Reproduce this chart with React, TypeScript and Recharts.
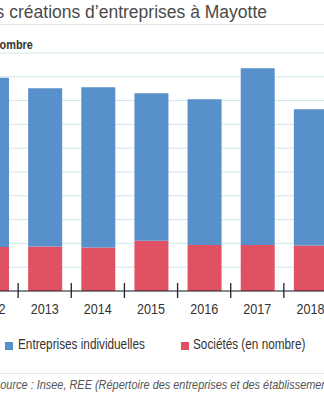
import { Bar, BarChart, CartesianGrid, XAxis, YAxis } from "recharts";

const years = ["2012", "2013", "2014", "2015", "2016", "2017", "2018"];
const societes = [370, 374, 365, 423, 387, 387, 382];
const individuelles = [1422, 1329, 1347, 1238, 1224, 1484, 1145];
const yTicks = [0, 200, 400, 600, 800, 1000, 1200, 1400, 1600, 1800, 2000];

const seriesNames = ["Entreprises individuelles", "Sociétés (en nombre)"];
const BLUE = "#5790cb";
const RED = "#e05263";
const FONT = '"Liberation Sans", Arial, sans-serif';
// no narrow font installed: squeeze the regular one
const SQUEEZE = 0.84;

const data = years.map((year, i) => ({
  year,
  individuelles: individuelles[i],
  societes: societes[i],
}));

const CHART_W = 372;
const BAND = CHART_W / years.length;

function YearTick(props: any) {
  const { x, y, payload } = props;
  const bx = x - BAND / 2;
  return (
    <g>
      <line x1={bx} x2={bx} y1={y - 8} y2={y + 7} stroke="#222" strokeWidth={1.3} />
      <g transform={`translate(${x},${y + 23}) scale(0.9,1)`}>
        <text x={0} y={0} textAnchor="middle" fill="#333" fontSize={14} fontFamily={FONT}>
          {payload.value}
        </text>
      </g>
    </g>
  );
}

const squeezed = (origin: string): React.CSSProperties => ({
  display: "inline-block",
  transform: `scaleX(${SQUEEZE})`,
  transformOrigin: origin,
  whiteSpace: "nowrap",
});

export default function App() {
  return (
    <div
      style={{
        position: "absolute",
        left: 0,
        top: 0,
        width: 324,
        height: 400,
        overflow: "hidden",
        background: "#fff",
        fontFamily: FONT,
      }}
    >
      <div
        style={{
          position: "absolute",
          right: 57,
          top: 2,
          whiteSpace: "nowrap",
          fontSize: 17.5,
          color: "#4a4a4a",
        }}
      >
        Évolution des créations d’entreprises à Mayotte
      </div>
      <div style={{ position: "absolute", left: 0, top: 24, width: 324, height: 1, background: "#e6e6e6" }} />
      <div style={{ position: "absolute", right: 291, top: 37, fontSize: 13, fontWeight: "bold", color: "#333" }}>
        <span style={squeezed("right")}>En nombre</span>
      </div>

      <div style={{ position: "absolute", left: -35, top: 0 }}>
        <BarChart
          width={CHART_W}
          height={320}
          data={data}
          margin={{ top: 53, right: 0, bottom: 0, left: 0 }}
        >
          <CartesianGrid vertical={false} stroke="#cfe6ec" />
          <XAxis
            dataKey="year"
            height={29}
            axisLine={{ stroke: "#222" }}
            tickLine={false}
            tickSize={0}
            tickMargin={0}
            interval={0}
            tick={<YearTick />}
          />
          <YAxis hide width={0} domain={[0, 2000]} ticks={yTicks} />
          <Bar dataKey="societes" stackId="a" fill={RED} barSize={34} isAnimationActive={false} />
          <Bar dataKey="individuelles" stackId="a" fill={BLUE} barSize={34} isAnimationActive={false} />
        </BarChart>
      </div>

      <div style={{ position: "absolute", left: 5, top: 342, width: 8, height: 8, background: BLUE }} />
      <div style={{ position: "absolute", left: 18, top: 336, fontSize: 14, color: "#333" }}>
        <span style={squeezed("left")}>{seriesNames[0]}</span>
      </div>
      <div style={{ position: "absolute", left: 181, top: 342, width: 8, height: 8, background: RED }} />
      <div style={{ position: "absolute", left: 193, top: 336, fontSize: 14, color: "#333" }}>
        <span style={squeezed("left")}>{seriesNames[1]}</span>
      </div>

      <div style={{ position: "absolute", left: 0, top: 373, width: 324, height: 1, background: "#e6e6e6" }} />
      <div style={{ position: "absolute", left: -7, top: 377, fontSize: 13, fontStyle: "italic", color: "#555" }}>
        <span style={squeezed("left")}>
          Source : Insee, REE (Répertoire des entreprises et des établissements)
        </span>
      </div>
    </div>
  );
}
